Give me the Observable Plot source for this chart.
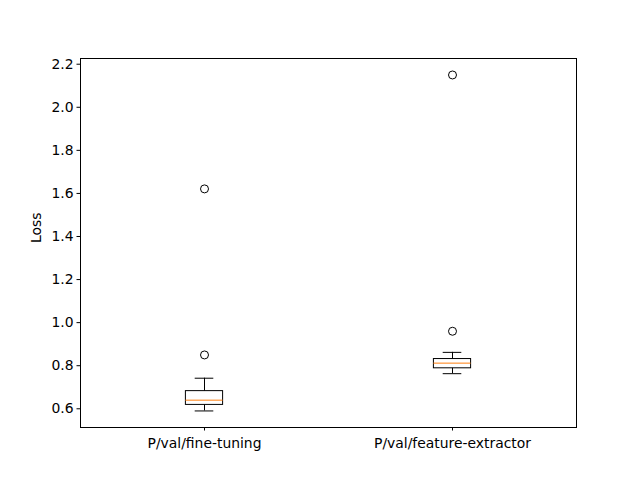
<!DOCTYPE html>
<html>
<head>
<meta charset="utf-8">
<script src="https://cdn.jsdelivr.net/npm/d3@7"></script>
<script src="https://cdn.jsdelivr.net/npm/@observablehq/plot@0.6"></script>
<style>
  html, body { margin: 0; padding: 0; background: white; }
</style>
</head>
<body>
<div id="chart"></div>
<script>
// Data (summary statistics)
const categories = ["P/val/fine-tuning", "P/val/feature-extractor"];
const whiskerLow = [0.590, 0.763];
const q1 = [0.618, 0.788];
const median = [0.640, 0.812];
const q3 = [0.682, 0.831];
const whiskerHigh = [0.742, 0.862];
const outliersFineTuning = [0.850, 1.621];
const outliersFeatureExtractor = [0.960, 2.150];
const yTicks = [0.6, 0.8, 1.0, 1.2, 1.4, 1.6, 1.8, 2.0, 2.2];
const yLabel = "Loss";

const idx = categories.map((_, i) => i);
const pos = i => i + 1;
const boxHalf = 0.075;
const capHalf = 0.0375;
const outlierTable = [
  ...outliersFineTuning.map(v => ({x: 1, y: v})),
  ...outliersFeatureExtractor.map(v => ({x: 2, y: v}))
];

const chart = Plot.plot({
  width: 640,
  height: 480,
  marginLeft: 80,
  marginRight: 64,
  marginTop: 58,
  marginBottom: 53,
  x: {domain: [0.5, 2.5]},
  y: {domain: [0.5131, 2.2265]},
  style: {fontFamily: "DejaVu Sans", fontSize: "13.9px", color: "black", background: "white"},
  marks: [
    Plot.axisY({ticks: yTicks, tickFormat: d => d.toFixed(1), tickSize: 3.5, tickPadding: 3.5, label: null, fontSize: 13.9}),
    Plot.axisX({ticks: [1, 2], tickFormat: d => categories[d - 1], tickSize: 3.5, tickPadding: 7, label: null, fontSize: 13.9}),
    Plot.text([yLabel], {text: d => d, frameAnchor: "left", dx: -44, rotate: -90, fontSize: 13.9, fill: "black"}),
    // whiskers
    Plot.ruleX(idx, {x: pos, y1: i => q3[i], y2: i => whiskerHigh[i], stroke: "black", strokeWidth: 1}),
    Plot.ruleX(idx, {x: pos, y1: i => q1[i], y2: i => whiskerLow[i], stroke: "black", strokeWidth: 1}),
    // caps
    Plot.ruleY(idx, {y: i => whiskerHigh[i], x1: i => pos(i) - capHalf, x2: i => pos(i) + capHalf, stroke: "black", strokeWidth: 1}),
    Plot.ruleY(idx, {y: i => whiskerLow[i], x1: i => pos(i) - capHalf, x2: i => pos(i) + capHalf, stroke: "black", strokeWidth: 1}),
    // boxes
    Plot.rect(idx, {x1: i => pos(i) - boxHalf, x2: i => pos(i) + boxHalf, y1: i => q1[i], y2: i => q3[i], fill: "none", stroke: "black", strokeWidth: 1}),
    // medians
    Plot.ruleY(idx, {y: i => median[i], x1: i => pos(i) - boxHalf, x2: i => pos(i) + boxHalf, stroke: "#ff7f0e", strokeWidth: 1}),
    // outliers
    Plot.dot(outlierTable, {x: "x", y: "y", r: 4, stroke: "black", fill: "none", strokeWidth: 1}),
    Plot.frame({stroke: "black", strokeWidth: 1})
  ]
});
document.getElementById("chart").appendChild(chart);
</script>
</body>
</html>
